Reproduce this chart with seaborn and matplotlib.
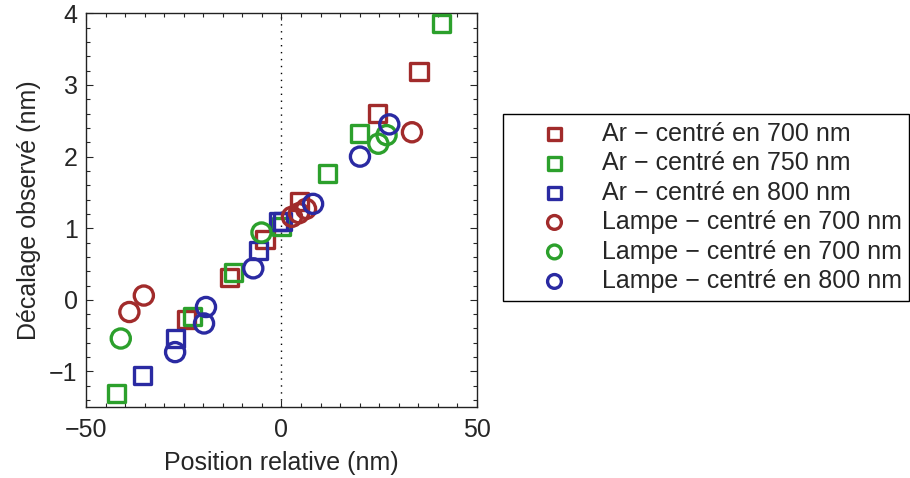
import matplotlib
matplotlib.use("Agg")
import matplotlib.pyplot as plt
import seaborn as sns
import pandas as pd
from matplotlib.ticker import MultipleLocator

sns.set_style("ticks")
plt.rcParams['font.family'] = ['Liberation Sans', 'DejaVu Sans']

# Data
ar700_x = [35.2, 24.6, 4.7, -4.2, -13.2, -24.4]
ar700_y = [3.19, 2.60, 1.38, 0.84, 0.31, -0.27]
ar750_x = [41.0, 20.1, 11.7, -0.1, -12.3, -22.7, -42.1]
ar750_y = [3.86, 2.32, 1.76, 1.03, 0.38, -0.23, -1.31]
ar800_x = [-0.8, 0.4, -5.9, -27.2, -35.6]
ar800_y = [1.09, 1.10, 0.69, -0.54, -1.06]
la700_x = [2.7, 4.5, 6.3, 33.4, -38.9, -35.2]
la700_y = [1.16, 1.21, 1.27, 2.34, -0.17, 0.06]
la750_x = [26.9, 24.8, -5.1, -41.1]
la750_y = [2.30, 2.18, 0.94, -0.54]
la800_x = [27.6, 20.1, 8.1, -7.2, -19.3, -19.8, -27.2]
la800_y = [2.45, 2.00, 1.34, 0.44, -0.10, -0.33, -0.73]

labels = ["Ar \u2212 centré en 700 nm", "Ar \u2212 centré en 750 nm", "Ar \u2212 centré en 800 nm",
          "Lampe \u2212 centré en 700 nm", "Lampe \u2212 centré en 700 nm", "Lampe \u2212 centré en 800 nm"]
xs = [ar700_x, ar750_x, ar800_x, la700_x, la750_x, la800_x]
ys = [ar700_y, ar750_y, ar800_y, la700_y, la750_y, la800_y]
colors = ["#A12B2B", "#2CA02C", "#2A2AA2", "#A12B2B", "#2CA02C", "#2A2AA2"]
markers = ["s", "s", "s", "o", "o", "o"]

FS = 18

fig = plt.figure(figsize=(9.1, 4.78), dpi=100)
ax = fig.add_axes([0.0945, 0.148, 0.4295, 0.824])

ax.axvline(0, color="black", linestyle=(0, (1, 4)), linewidth=1.0, zorder=0)

for x, y, lab, c, m in zip(xs, ys, labels, colors, markers):
    df = pd.DataFrame({"x": x, "y": y})
    sns.scatterplot(data=df, x="x", y="y", ax=ax, marker=m, s=150 if m == "s" else 190,
                    facecolor="none", edgecolor=c, linewidth=2.4, label=lab, zorder=3)

ax.set_xlim(-50, 50)
ax.set_ylim(-1.5, 4)
ax.set_xticks([-50, 0, 50])
ax.set_yticks([-1, 0, 1, 2, 3, 4])
ax.set_xticklabels(["\u221250", "0", "50"])
ax.set_yticklabels(["\u22121", "0", "1", "2", "3", "4"])
ax.xaxis.set_minor_locator(MultipleLocator(5))
ax.yaxis.set_minor_locator(MultipleLocator(0.2))
ax.tick_params(which="both", direction="in", top=True, right=True, labelsize=FS)
ax.tick_params(axis="x", pad=8)
ax.tick_params(axis="y", pad=6)
ax.tick_params(which="major", length=5, width=0.8)
ax.tick_params(which="minor", length=3, width=0.8)
for sp in ax.spines.values():
    sp.set_linewidth(1.0)
    sp.set_color("#222222")
ax.set_xlabel("Position relative (nm)", fontsize=FS, labelpad=6)
ax.set_ylabel("Décalage observé (nm)", fontsize=FS, labelpad=6)

ax.legend(loc="upper left", bbox_to_anchor=(0.553, 0.7615), bbox_transform=fig.transFigure,
          fontsize=FS, frameon=True, fancybox=False, edgecolor="black", framealpha=1,
          markerscale=0.72, labelspacing=0.22, handletextpad=0.14, borderpad=0.3,
          handlelength=3.5, borderaxespad=0)
ax.get_legend().get_frame().set_linewidth(1.0)

fig.savefig("out.png", dpi=100)
